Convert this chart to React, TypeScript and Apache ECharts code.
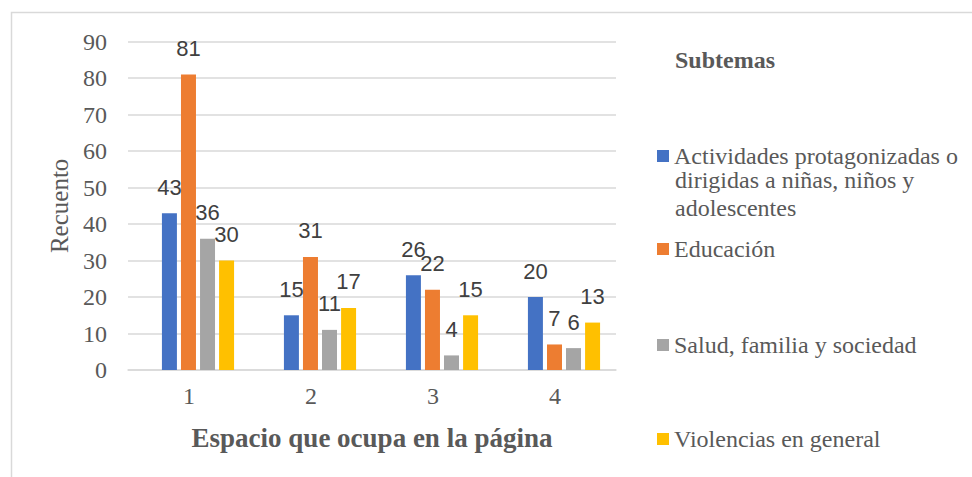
import React, { useEffect, useRef } from "react";
import * as echarts from "echarts";

const categories = ["1", "2", "3", "4"];
const seriesNames = [
  "Actividades protagonizadas o dirigidas a niñas, niños y adolescentes",
  "Educación",
  "Salud, familia y sociedad",
  "Violencias en general",
];
const actividades = [43, 15, 26, 20];
const educacion = [81, 31, 22, 7];
const salud = [36, 11, 4, 6];
const violencias = [30, 17, 15, 13];
const colors = ["#4472C4", "#ED7D31", "#A5A5A5", "#FFC000"];
const legendTops = [155, 248, 344, 438];

export default function App() {
  const ref = useRef<HTMLDivElement>(null);
  useEffect(() => {
    if (!ref.current) return;
    const chart = echarts.init(ref.current, null, { renderer: "svg" });
    const serif = "Liberation Serif";
    const values = [actividades, educacion, salud, violencias];
    const series = values.map((v, i) => ({
      name: seriesNames[i],
      type: "bar",
      xAxisIndex: 1,
      yAxisIndex: 1,
      data: v,
      barWidth: 15,
      barGap: "27%",
      itemStyle: { color: colors[i] },
      label: {
        show: true,
        position: "top",
        distance: 15,
        color: "#404040",
        fontSize: 22,
        fontFamily: "Liberation Sans",
      },
    }));
    const legends = seriesNames.map((n, i) => ({
      show: true,
      data: [n],
      left: 657,
      top: legendTops[i] - 11,
      orient: "vertical",
      icon: "rect",
      itemWidth: 12,
      itemHeight: 12,
      itemGap: 6,
      padding: 0,
      selectedMode: false,
      formatter: i === 0 ? () => "Actividades protagonizadas o" : undefined,
      textStyle: { fontFamily: serif, fontSize: 24, color: "#595959" },
    }));
    chart.setOption({
      animation: false,
      color: colors,
      graphic: [
        {
          type: "rect",
          shape: { x: 11.5, y: 12.5, width: 1000, height: 600 },
          style: { fill: "none", stroke: "#d9d9d9", lineWidth: 1.5 },
          silent: true,
        },
        {
          type: "text",
          left: 675,
          top: 48,
          style: { text: "Subtemas", fontFamily: serif, fontWeight: "bold", fontSize: 24, fill: "#595959" },
        },
        {
          type: "text",
          left: 675,
          top: 168,
          style: { text: "dirigidas a niñas, niños y", fontFamily: serif, fontSize: 24, fill: "#595959" },
        },
        {
          type: "text",
          left: 675,
          top: 196,
          style: { text: "adolescentes", fontFamily: serif, fontSize: 24, fill: "#595959" },
        },
      ],
      legend: legends,
      grid: [
        { left: 128, right: 356, top: 41.7, bottom: 107, containLabel: false },
        { left: 137, right: 347, top: 41.7, bottom: 107, containLabel: false },
      ],
      xAxis: [
        {
          type: "category",
          gridIndex: 0,
          data: categories,
          axisLine: { lineStyle: { color: "#d9d9d9", width: 1.5 } },
          axisTick: { show: false },
          axisLabel: { fontFamily: serif, fontSize: 24, color: "#595959", margin: 14 },
          name: "Espacio que ocupa en la página",
          nameLocation: "middle",
          nameGap: 54,
          nameTextStyle: { fontFamily: serif, fontWeight: "bold", fontSize: 27, color: "#595959" },
        },
        {
          type: "category",
          gridIndex: 1,
          data: categories,
          show: false,
        },
      ],
      yAxis: [
        {
          type: "value",
          gridIndex: 0,
          min: 0,
          max: 90,
          interval: 10,
          axisLine: { show: false },
          axisTick: { show: false },
          splitLine: { lineStyle: { color: "#d9d9d9", width: 1.5 } },
          axisLabel: { fontFamily: serif, fontSize: 24, color: "#595959", margin: 21 },
          name: "Recuento",
          nameLocation: "middle",
          nameGap: 56,
          nameRotate: 90,
          nameTextStyle: { fontFamily: serif, fontSize: 25, color: "#595959" },
        },
        {
          type: "value",
          gridIndex: 1,
          min: 0,
          max: 90,
          interval: 10,
          show: false,
          splitLine: { show: false },
        },
      ],
      series,
    });
    return () => chart.dispose();
  }, []);
  return (
    <div
      ref={ref}
      style={{ position: "fixed", left: 0, top: 0, width: 972, height: 477, background: "#fff" }}
    />
  );
}
